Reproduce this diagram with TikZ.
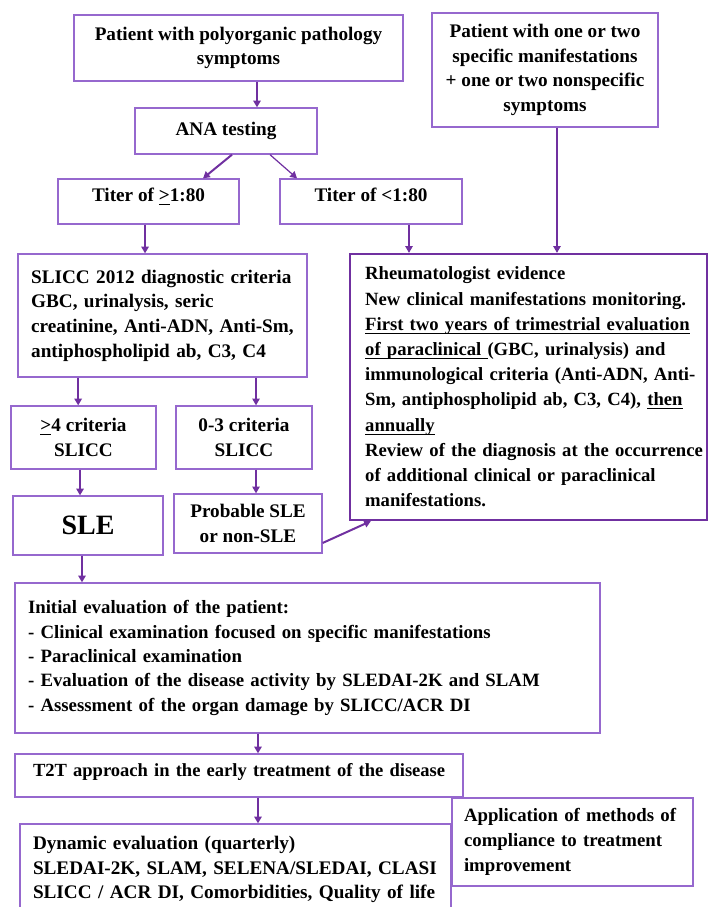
\documentclass[tikz,border=0pt]{standalone}
\usepackage{fontspec}
\setmainfont{Liberation Serif}
\usetikzlibrary{arrows.meta}
\tikzset{>={Triangle[width=5.5pt,length=5pt]}}
\definecolor{boxpurple}{RGB}{150,104,206}
\definecolor{arrowpurple}{RGB}{112,48,160}
\hyphenpenalty=10000
\exhyphenpenalty=10000
\newcommand{\lineunder}[1]{\leavevmode\setbox0\hbox{#1}\rlap{\rule[-2.6pt]{\wd0}{0.7pt}}\box0\relax}

\begin{document}
\begin{tikzpicture}[x=0.75pt, y=-0.75pt, flowbox/.style={rectangle, draw=boxpurple, line width=1pt, align=center, inner sep=3pt, font=\fontsize{14.4}{18.5}\selectfont\bfseries}, listbox/.style={flowbox, align=left}, link/.style={->, draw=arrowpurple, line width=1.5pt}, thinlink/.style={->, draw=arrowpurple, line width=0.9pt}]

    \useasboundingbox (0,0) rectangle (709,907);

    %Nodes
    \node[flowbox, minimum width=246.75pt, minimum height=49.5pt](poly) at (238.5,48){Patient with polyorganic pathology\\symptoms};
    \node[flowbox, minimum width=169.5pt, minimum height=85.5pt](spec) at (545,70){Patient with one or two\\specific manifestations\\+ one or two nonspecific\\symptoms};
    \node[flowbox, minimum width=136.5pt, minimum height=34.5pt](ana) at (226,131){ANA testing};
    \node[flowbox, text depth=10pt, minimum width=135.75pt, minimum height=33.75pt](tge) at (148.5,201.5){Titer of \lineunder{>}1:80};
    \node[flowbox, text depth=10pt, minimum width=136.5pt, minimum height=33.75pt](tlt) at (371,201.5){Titer of <1:80};
    \node[listbox, text width=197pt, inner xsep=9.9pt, minimum height=92.25pt](slicc) at (162.5,315.5){SLICC 2012 diagnostic criteria\\GBC, urinalysis, seric\\\mbox{creatinine, Anti-ADN, Anti-Sm,}\\antiphospholipid ab, C3, C4};
    \node[listbox, draw=arrowpurple, line width=1.7pt, font=\fontsize{14}{18.9}\selectfont\bfseries, text width=245pt, inner xsep=11.4pt, minimum height=199.5pt](rheum) at (528.5,387){Rheumatologist evidence\\\mbox{New clinical manifestations monitoring.}\\\lineunder{First two years of trimestrial evaluation}\\\mbox{\lineunder{of paraclinical }(GBC, urinalysis) and}\\\mbox{immunological criteria (Anti-ADN, Anti-}\\\mbox{Sm, antiphospholipid ab, C3, C4), \lineunder{then}}\\\lineunder{annually}\\\mbox{Review of the diagnosis at the occurrence}\\\mbox{of additional clinical or paraclinical}\\manifestations.};
    \node[flowbox, minimum width=108.75pt, minimum height=47.25pt](ge4) at (83.5,437.5){\lineunder{>}4 criteria\\SLICC};
    \node[flowbox, minimum width=102pt, minimum height=47.25pt](c03) at (244,437.5){0-3 criteria\\SLICC};
    \node[flowbox, font=\fontsize{21}{24}\selectfont\bfseries, minimum width=112.5pt, minimum height=44.25pt](sle) at (88,525.5){SLE};
    \node[flowbox, minimum width=111pt, minimum height=44.25pt](prob) at (248,523.5){Probable SLE\\or non-SLE};
    \node[listbox, font=\fontsize{14.1}{18.3}\selectfont\bfseries, text width=419.25pt, inner xsep=9.75pt, minimum height=112.5pt](init) at (307.5,658){Initial evaluation of the patient:\\- Clinical examination focused on specific manifestations\\- Paraclinical examination\\- Evaluation of the disease activity by SLEDAI-2K and SLAM\\- Assessment of the organ damage by SLICC/ACR DI};
    \node[listbox, font=\fontsize{13.9}{18}\selectfont\bfseries, text width=309pt, inner xsep=13.5pt, text depth=8pt, minimum height=32.25pt](t2t) at (239,775.5){\mbox{T2T approach in the early treatment of the disease}};
    \node[listbox, text width=303.75pt, inner xsep=9.75pt, text depth=40pt, minimum height=68.25pt](dyn) at (235.5,869.5){Dynamic evaluation (quarterly)\\\mbox{SLEDAI-2K, SLAM, SELENA/SLEDAI, CLASI}\\\mbox{SLICC / ACR DI, Comorbidities, Quality of life}};
    \node[listbox, font=\fontsize{14.1}{18.5}\selectfont\bfseries, text width=162.75pt, inner xsep=9pt, minimum height=66pt](app) at (572.5,842){\mbox{Application of methods of}\\compliance to treatment\\improvement};

    %Lines
    \draw[link] ([xshift=23.25pt]ana.north |- poly.south) -- ([xshift=23.25pt]ana.north);
    \draw[link] ([xshift=4.5pt]ana.south) -- ([xshift=40.9pt]tge.north);
    \draw[thinlink] ([xshift=33pt]ana.south) -- ([xshift=-55.5pt]tlt.north);
    \draw[link] ([xshift=-2.6pt]tge.south) -- ([xshift=-2.6pt]tge.south |- slicc.north);
    \draw[thinlink] ([xshift=28.5pt]tlt.south) -- ([xshift=28.5pt]tlt.south |- rheum.north);
    \draw[thinlink] ([xshift=9pt]spec.south) -- ([xshift=9pt]spec.south |- rheum.north);
    \draw[link] ([xshift=-4pt]ge4.north |- slicc.south) -- ([xshift=-4pt]ge4.north);
    \draw[thinlink] ([xshift=9pt]c03.north |- slicc.south) -- ([xshift=9pt]c03.north);
    \draw[link] ([xshift=-2.6pt]ge4.south) -- ([xshift=-2.6pt]ge4.south |- sle.north);
    \draw[thinlink] ([xshift=9pt]c03.south) -- ([xshift=9pt]c03.south |- prob.north);
    \draw[link] ([yshift=-14.6pt]prob.east) -- ([xshift=16.5pt]rheum.south west);
    \draw[link] ([xshift=-4.5pt]sle.south) -- ([xshift=-4.5pt]sle.south |- init.north);
    \draw[link] ([xshift=14.25pt]t2t.north |- init.south) -- ([xshift=14.25pt]t2t.north);
    \draw[link] ([xshift=14.25pt]t2t.south) -- ([xshift=14.25pt]t2t.south |- dyn.north);

\end{tikzpicture}
\end{document}
